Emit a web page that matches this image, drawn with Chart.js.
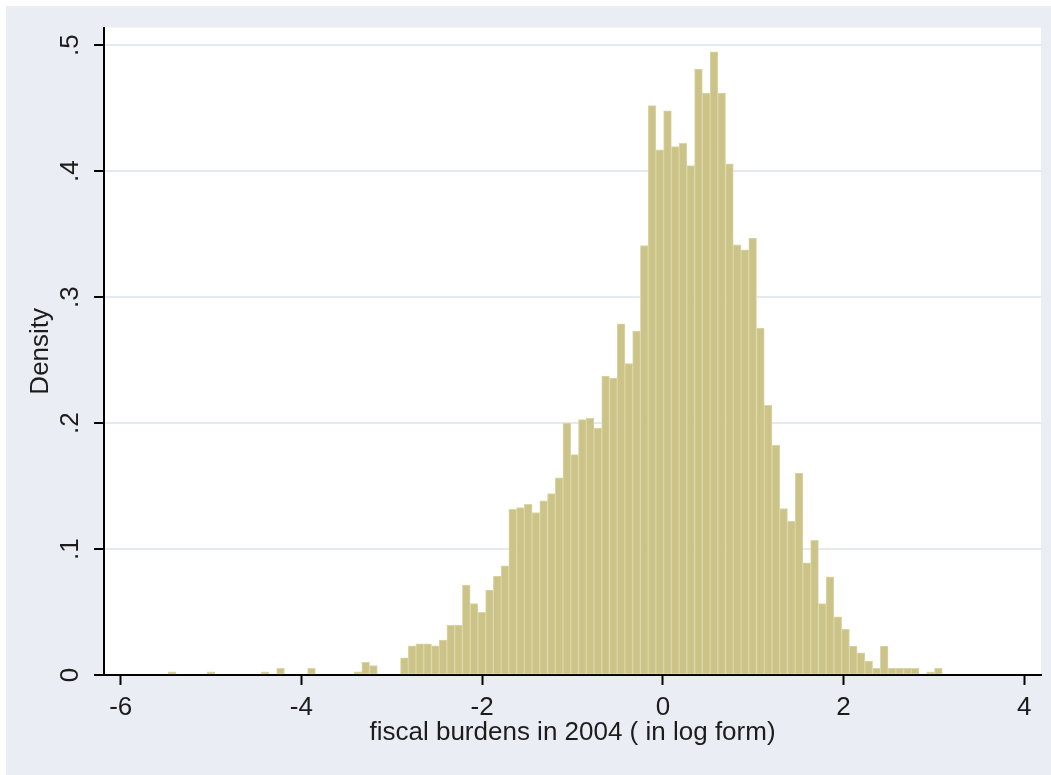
<!DOCTYPE html>
<html>
<head>
<meta charset="utf-8">
<script src="https://cdn.jsdelivr.net/npm/chart.js@4/dist/chart.umd.min.js"></script>
<style>
  html, body { margin: 0; padding: 0; background: #fff; }
  canvas { display: block; }
</style>
</head>
<body>
<canvas id="myChart" width="1051" height="775"></canvas>
<script>
// histogram : 100 classes, de -5.473 à 3.092
const binStart = -5.473;
const binWidth = 0.08565;

// densité, une valeur par classe
const density = [
  0.0026, 0, 0, 0, 0, 0.0026, 0, 0, 0, 0,
  0, 0, 0.0026, 0, 0.0053, 0, 0, 0, 0.0053, 0,
  0, 0, 0, 0, 0.0026, 0.0100, 0.0075, 0, 0, 0,
  0.0137, 0.0232, 0.0248, 0.0248, 0.0232, 0.0278, 0.0397, 0.0397, 0.0714, 0.0568,
  0.0497, 0.0674, 0.0785, 0.0866, 0.1316, 0.1330, 0.1356, 0.1290, 0.1382, 0.1440,
  0.1565, 0.2000, 0.1750, 0.2028, 0.2038, 0.1960, 0.2374, 0.2358, 0.2789, 0.2472,
  0.2730, 0.3410, 0.4520, 0.4169, 0.4480, 0.4195, 0.4221, 0.4044, 0.4810, 0.4620,
  0.4948, 0.4620, 0.4058, 0.3415, 0.3376, 0.3468, 0.2754, 0.2141, 0.1824, 0.1322,
  0.1221, 0.1604, 0.0890, 0.1070, 0.0568, 0.0780, 0.0462, 0.0362, 0.0230, 0.0177,
  0.0111, 0.0053, 0.0230, 0.0053, 0.0053, 0.0053, 0.0053, 0, 0.0026, 0.0053
];

const xTicks = [-6, -4, -2, 0, 2, 4];
const yTicks = [0, 0.1, 0.2, 0.3, 0.4, 0.5];
const yTickLabels = ["0", ".1", ".2", ".3", ".4", ".5"];

const xTitle = "fiscal burdens in 2004 ( in log form)";
const yTitle = "Density";

// centre de chaque classe
const points = density.map((d, i) => ({ x: binStart + (i + 0.5) * binWidth, y: d }));

const font = { family: "'Liberation Sans', Arial, sans-serif", size: 26 };
const textColor = "#1c1c1c";
const gridColor = "#E5EAF1";

// fond gris + zone du graphique en blanc
const fondStata = {
  id: "fondStata",
  beforeDraw(chart) {
    const { ctx, chartArea: a } = chart;
    ctx.save();
    ctx.fillStyle = "#ffffff";
    ctx.fillRect(0, 0, chart.width, chart.height);
    ctx.fillStyle = "#EAEDF3";
    ctx.fillRect(6, 6, chart.width - 6, chart.height - 6);
    ctx.fillStyle = "#ffffff";
    ctx.fillRect(a.left, a.top, a.right - a.left, a.bottom - a.top);
    ctx.restore();
  },
};

const config = {
  type: "bar",
  data: {
    datasets: [
      {
        label: yTitle,
        data: points,
        backgroundColor: "#CBC388",
        borderColor: "#DBD6A5",
        borderWidth: 1,
        borderSkipped: false,
        barPercentage: 1,
        categoryPercentage: 1,
      },
    ],
  },
  options: {
    responsive: false,
    animation: false,
    devicePixelRatio: 1,
    layout: { padding: { left: 0, top: 27, right: 10, bottom: 0 } },
    plugins: {
      legend: { display: false },
      tooltip: { enabled: false },
    },
    scales: {
      x: {
        type: "linear",
        z: 1,
        offset: false,
        min: -6.185,
        max: 4.185,
        afterBuildTicks: (s) => { s.ticks = xTicks.map((v) => ({ value: v })); },
        afterFit: (s) => { s.height = 100; },
        border: { display: true, color: "#000", width: 2 },
        grid: {
          offset: false,
          drawOnChartArea: false,
          drawTicks: true,
          tickLength: 10,
          tickColor: "#000",
          tickWidth: 2,
        },
        ticks: {
          autoSkip: false,
          maxRotation: 0,
          padding: 7,
          color: textColor,
          font: font,
          callback: (v) => String(v),
        },
        title: {
          display: true,
          text: xTitle,
          color: textColor,
          font: font,
          padding: { top: 0, bottom: 27 },
        },
      },
      y: {
        min: 0,
        max: 0.514,
        afterBuildTicks: (s) => { s.ticks = yTicks.map((v) => ({ value: v })); },
        afterFit: (s) => { s.width = 104; },
        border: { display: true, color: "#000", width: 2 },
        grid: {
          color: (c) => (c.tick && c.tick.value === 0 ? "rgba(0,0,0,0)" : gridColor),
          lineWidth: 2,
          drawTicks: true,
          tickLength: 10,
          tickColor: "#000",
          tickWidth: 2,
        },
        ticks: {
          autoSkip: false,
          minRotation: 90,
          maxRotation: 90,
          crossAlign: "center",
          padding: 12,
          color: textColor,
          font: font,
          callback: (v) => {
            const k = yTicks.findIndex((t) => Math.abs(t - v) < 1e-9);
            return k >= 0 ? yTickLabels[k] : "";
          },
        },
        title: {
          display: true,
          text: yTitle,
          color: textColor,
          font: font,
          padding: { top: 25, bottom: 0 },
        },
      },
    },
  },
  plugins: [fondStata],
};

let context = document.getElementById("myChart").getContext("2d");
let chart = new Chart(context, config);
</script>
</body>
</html>
